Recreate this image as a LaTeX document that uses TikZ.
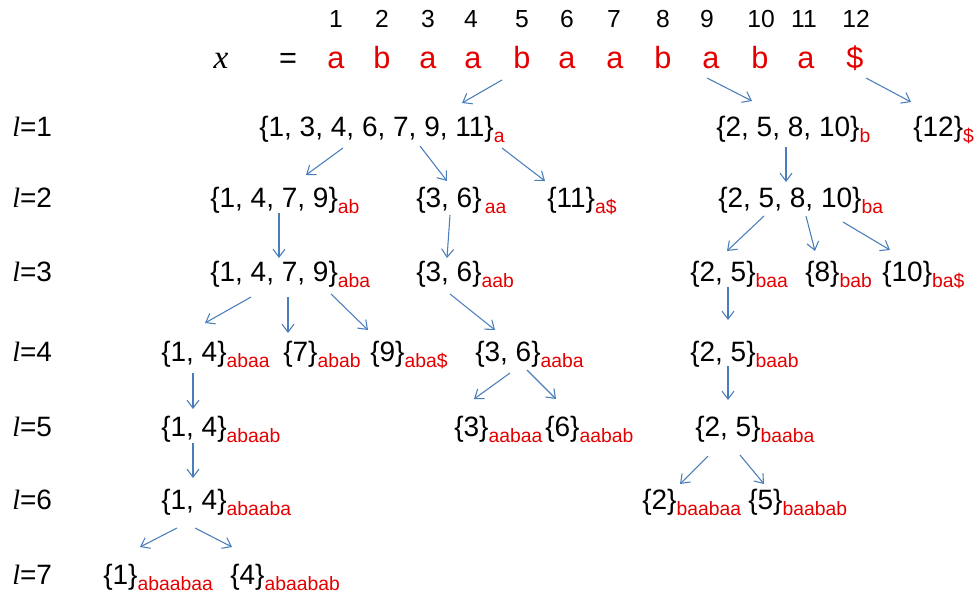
\documentclass[tikz,border=0pt]{standalone}
\usepackage{fontspec}
\setmainfont{Liberation Sans}
\newfontfamily\timesfont{Liberation Serif}
\usetikzlibrary{arrows.meta, calc}
\definecolor{setred}{RGB}{228,0,0}
\definecolor{arrblue}{RGB}{74,126,187}
% a set of positions with its (red) substring as subscript
\newcommand{\occ}[2]{\{#1\}\raisebox{-4.5pt}{\color{setred}\fontsize{14.5}{14.5}\selectfont #2}}
\newcommand{\lev}[1]{{\timesfont\itshape l}=#1}
\tikzset{
  setnode/.style={anchor=base west, inner sep=0pt, font=\fontsize{21}{21}\selectfont},
  levnode/.style={anchor=base west, inner sep=0pt, font=\fontsize{21}{21}\selectfont},
  posnum/.style={anchor=base, inner sep=0pt, font=\fontsize{18.5}{18.5}\selectfont},
  strchar/.style={anchor=base, inner sep=0pt, text=setred, font=\fontsize{23}{23}\selectfont},
  arr/.style={-{Straight Barb[length=6pt,width=9pt]}, color=arrblue, line width=0.8pt}
}

\begin{document}
\begin{tikzpicture}[x=0.75pt, y=-0.75pt]
  \useasboundingbox (0,0) rectangle (979,597);

  % positions and the string x
  \foreach \i/\px/\ch in {1/336/a, 2/382/b, 3/428/a, 4/473/a, 5/522/b, 6/567/a,
                          7/615/a, 8/663/b, 9/711/a, 10/760/b, 11/806/a, 12/855/\$} {
    \node[strchar] (c\i) at (\px,68) {\ch};
  }
  \foreach \i/\px in {1/336, 2/382, 3/428, 4/471, 5/522, 6/567,
                      7/614, 8/663, 9/707, 10/761, 11/804, 12/856} {
    \node[posnum] (n\i) at (\px,27) {\i};
  }
  \node[anchor=base, inner sep=0pt, font=\fontsize{25}{25}\selectfont\timesfont\itshape] (xvar) at (221,68) {x};
  \node[anchor=base, inner sep=0pt, font=\fontsize{23}{23}\selectfont] (eq) at (288,68) {=};

  % level labels
  \node[levnode] (l1) at (12,136) {\lev{1}};
  \node[levnode] (l2) at (12,207) {\lev{2}};
  \node[levnode] (l3) at (12,281) {\lev{3}};
  \node[levnode] (l4) at (12,361) {\lev{4}};
  \node[levnode] (l5) at (12,436) {\lev{5}};
  \node[levnode] (l6) at (12,509) {\lev{6}};
  \node[levnode] (l7) at (12,584) {\lev{7}};

  % l=1
  \node[setnode] (s1a) at (259,136) {\occ{1, 3, 4, 6, 7, 9, 11}{a}};
  \node[setnode] (s1b) at (716,136) {\occ{2, 5, 8, 10}{b}};
  \node[setnode] (s1d) at (913,136) {\occ{12}{\$}};
  % l=2
  \node[setnode] (s2ab) at (210,207) {\occ{1, 4, 7, 9}{ab}};
  \node[setnode] (s2aa) at (416,207) {\occ{3, 6}{\,aa}};
  \node[setnode] (s2ad) at (547,207) {\occ{11}{a\$}};
  \node[setnode] (s2ba) at (718,207) {\occ{2, 5, 8, 10}{ba}};
  % l=3
  \node[setnode] (s3aba) at (210,281) {\occ{1, 4, 7, 9}{aba}};
  \node[setnode] (s3aab) at (416,281) {\occ{3, 6}{aab}};
  \node[setnode] (s3baa) at (690,281) {\occ{2, 5}{baa}};
  \node[setnode] (s3bab) at (805,281) {\occ{8}{bab}};
  \node[setnode] (s3bad) at (882,281) {\occ{10}{ba\$}};
  % l=4
  \node[setnode] (s4abaa) at (161,361) {\occ{1, 4}{abaa}};
  \node[setnode] (s4abab) at (283,361) {\occ{7}{abab}};
  \node[setnode] (s4abad) at (370,361) {\occ{9}{aba\$}};
  \node[setnode] (s4aaba) at (475,361) {\occ{3, 6}{aaba}};
  \node[setnode] (s4baab) at (690,361) {\occ{2, 5}{baab}};
  % l=5
  \node[setnode] (s5abaab) at (161,436) {\occ{1, 4}{abaab}};
  \node[setnode] (s5aabaa) at (454,436) {\occ{3}{aabaa}};
  \node[setnode] (s5aabab) at (545,436) {\occ{6}{aabab}};
  \node[setnode] (s5baaba) at (695,436) {\occ{2, 5}{baaba}};
  % l=6
  \node[setnode] (s6abaaba) at (161,509) {\occ{1, 4}{abaaba}};
  \node[setnode] (s6baabaa) at (642,509) {\occ{2}{baabaa}};
  \node[setnode] (s6baabab) at (748,509) {\occ{5}{baabab}};
  % l=7
  \node[setnode] (s7abaabaa) at (103,584) {\occ{1}{abaabaa}};
  \node[setnode] (s7abaabab) at (230,584) {\occ{4}{abaabab}};

  % arrows from the string to level 1
  \draw[arr] ($(c5.base)+(-20,12)$) -- ($(s1a.base west)+(203,-33)$);
  \draw[arr] ($(c9.base)+(-4,10)$) -- ($(s1b.base west)+(36,-35)$);
  \draw[arr] ($(c12.base)+(11,10)$) -- ($(s1d.base west)+(-2,-34)$);

  % level 1 -> 2
  \draw[arr] ($(s1a.base west)+(84,12)$) -- ($(s2ab.base west)+(96,-32)$);
  \draw[arr] ($(s1a.base west)+(161,10)$) -- ($(s2aa.base west)+(31,-26)$);
  \draw[arr] ($(s1a.base west)+(243,12)$) -- ($(s2ad.base west)+(-2,-26)$);
  \draw[arr] ($(s1b.base west)+(70,11)$) -- ($(s2ba.base west)+(68,-25)$);

  % level 2 -> 3
  \draw[arr] ($(s2ab.base west)+(69,6)$) -- ($(s3aba.base west)+(69,-23)$);
  \draw[arr] ($(s2aa.base west)+(34,8)$) -- ($(s3aab.base west)+(31,-23)$);
  \draw[arr] ($(s2ba.base west)+(46,9)$) -- ($(s3baa.base west)+(37,-30)$);
  \draw[arr] ($(s2ba.base west)+(88,9)$) -- ($(s3bab.base west)+(10,-30)$);
  \draw[arr] ($(s2ba.base west)+(125,15)$) -- ($(s3bad.base west)+(8,-31)$);

  % level 3 -> 4
  \draw[arr] ($(s3aba.base west)+(41,16)$) -- ($(s4abaa.base west)+(44,-38)$);
  \draw[arr] ($(s3aba.base west)+(78,16)$) -- ($(s4abab.base west)+(5,-28)$);
  \draw[arr] ($(s3aba.base west)+(121,13)$) -- ($(s4abad.base west)+(-2,-31)$);
  \draw[arr] ($(s3aab.base west)+(34,13)$) -- ($(s4aaba.base west)+(20,-31)$);
  \draw[arr] ($(s3baa.base west)+(38,6)$) -- ($(s4baab.base west)+(38,-41)$);

  % level 4 -> 5
  \draw[arr] ($(s4abaa.base west)+(32,12)$) -- ($(s5abaab.base west)+(32,-27)$);
  \draw[arr] ($(s4aaba.base west)+(35,12)$) -- ($(s5aabaa.base west)+(20,-37)$);
  \draw[arr] ($(s4aaba.base west)+(52,9)$) -- ($(s5aabab.base west)+(11,-37)$);
  \draw[arr] ($(s4baab.base west)+(38,5)$) -- ($(s5baaba.base west)+(33,-36)$);

  % level 5 -> 6
  \draw[arr] ($(s5abaab.base west)+(32,7)$) -- ($(s6abaaba.base west)+(32,-31)$);
  \draw[arr] ($(s5baaba.base west)+(13,20)$) -- ($(s6baabaa.base west)+(38,-25)$);
  \draw[arr] ($(s5baaba.base west)+(45,19)$) -- ($(s6baabab.base west)+(16,-25)$);

  % level 6 -> 7
  \draw[arr] ($(s6abaaba.base west)+(16,19)$) -- ($(s7abaabaa.base west)+(37,-37)$);
  \draw[arr] ($(s6abaaba.base west)+(34,19)$) -- ($(s7abaabab.base west)+(2,-37)$);
\end{tikzpicture}
\end{document}
